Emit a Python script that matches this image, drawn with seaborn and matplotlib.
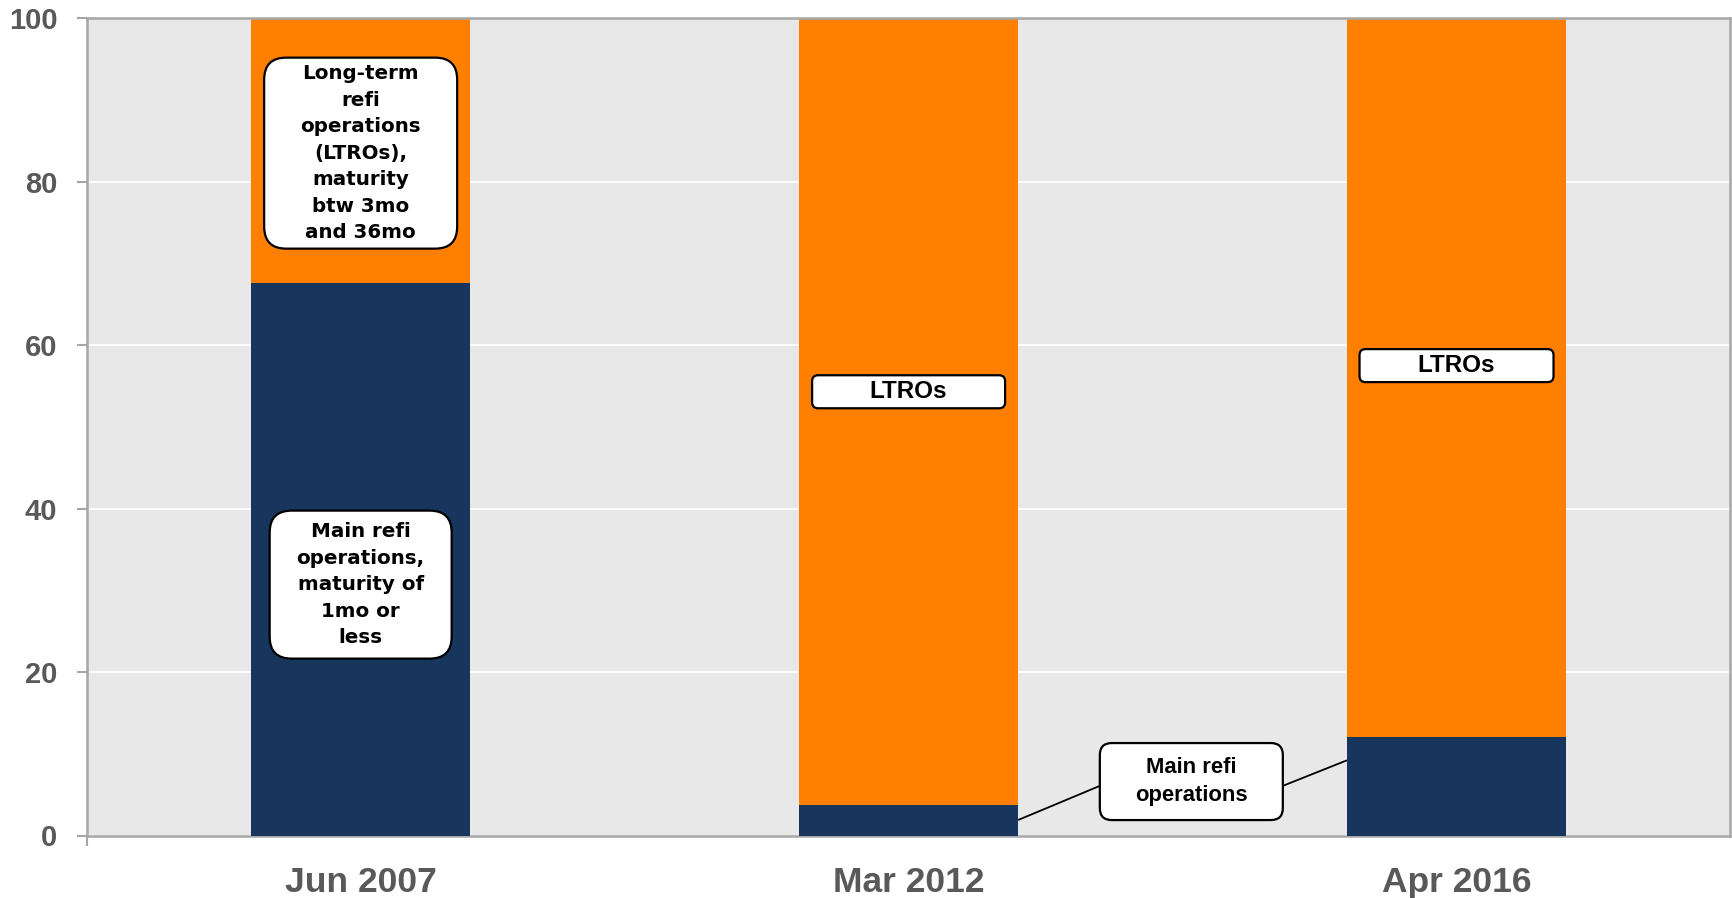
import matplotlib
matplotlib.use("Agg")
import matplotlib.pyplot as plt
from matplotlib.patches import FancyBboxPatch
from matplotlib.transforms import IdentityTransform
import seaborn as sns
import pandas as pd

# ---- data ----
categories = ["Jun 2007", "Mar 2012", "Apr 2016"]
main_refi = [67.6, 3.7, 12.0]
ltros = [32.4, 96.3, 88.0]
y_ticks = [0, 20, 40, 60, 80, 100]

NAVY = "#18365D"
ORANGE = "#FF8000"
GREY_TXT = "#595959"
SPINE = "#A6A6A6"

sns.set_theme(style="white")
plt.rcParams["font.family"] = ["Liberation Sans", "DejaVu Sans"]

DPI = 100
W, H = 1733, 898
fig = plt.figure(figsize=(W / DPI, H / DPI), dpi=DPI)
ax_l, ax_r, ax_t, ax_b = 86.7, 1730.5, 18.3, 835.5
ax = fig.add_axes([ax_l / W, 1 - ax_b / H, (ax_r - ax_l) / W, (ax_b - ax_t) / H])
ax.set_facecolor("#E8E8E8")

df = pd.DataFrame({"period": categories, "main": main_refi, "ltro": ltros})
df["total"] = df["main"] + df["ltro"]

sns.barplot(data=df, x="period", y="total", color=ORANGE, width=0.4,
            saturation=1, ax=ax, zorder=2, linewidth=0)
sns.barplot(data=df, x="period", y="main", color=NAVY, width=0.4,
            saturation=1, ax=ax, zorder=3, linewidth=0)

ax.set_xlim(-0.5, 2.5)
ax.set_ylim(0, 100)
ax.set_yticks(y_ticks)
ax.set_xlabel("")
ax.set_ylabel("")
ax.grid(axis="y", color="white", linewidth=1.3, zorder=1)
ax.grid(axis="x", visible=False)
ax.set_axisbelow(True)

for s in ax.spines.values():
    s.set_visible(True)
    s.set_color(SPINE)
    s.set_linewidth(1.8)

ax.tick_params(axis="y", which="major", direction="out", length=7.2, width=1.5,
               color=SPINE, pad=14, labelsize=21, labelcolor=GREY_TXT, left=True)
ax.tick_params(axis="x", which="major", length=0, pad=22, labelsize=25.5,
               labelcolor=GREY_TXT)
ax.set_xticks([-0.5], minor=True)
ax.tick_params(axis="x", which="minor", direction="out", length=7.2, width=1.5,
               color=SPINE, bottom=True)
for lab in ax.get_yticklabels() + ax.get_xticklabels():
    lab.set_fontweight("bold")
    lab.set_fontfamily(["Liberation Sans", "DejaVu Sans"])


def callout(xd, yd, text, w, h, r, size, family, ls):
    """Rounded white box of w x h pixels centred on data point (xd, yd)."""
    cx, cy = ax.transData.transform((xd, yd))
    patch = FancyBboxPatch((cx - w / 2, cy - h / 2), w, h,
                           boxstyle=f"round,pad=0,rounding_size={r}",
                           transform=IdentityTransform(), facecolor="white",
                           edgecolor="black", linewidth=1.6, zorder=5)
    fig.add_artist(patch)
    fig.text(cx / W, cy / H, text, ha="center", va="center", fontsize=size,
             fontweight="bold", family=family, color="black", linespacing=ls,
             zorder=6)


callout(0, 83.5, "Long-term\nrefi\noperations\n(LTROs),\nmaturity\nbtw 3mo\nand 36mo",
        193, 191, 22, 14.3, ["DejaVu Sans"], 1.5)
callout(0, 30.7, "Main refi\noperations,\nmaturity of\n1mo or\nless",
        182, 148, 22, 14.3, ["DejaVu Sans"], 1.5)
callout(1, 54.3, "LTROs", 193, 33, 6, 17.5, ["Liberation Sans"], 1.2)
callout(2, 57.5, "LTROs", 194, 33, 6, 17.5, ["Liberation Sans"], 1.2)
callout(1.516, 6.6, "Main refi\noperations", 183, 77, 12, 15.8,
        ["Liberation Sans"], 1.45)

# leader lines
ax.plot([1.2, 1.350], [1.9, 6.1], color="black", linewidth=1.3, zorder=4,
        solid_capstyle="butt")
ax.plot([1.684, 1.8], [6.1, 9.2], color="black", linewidth=1.3, zorder=4,
        solid_capstyle="butt")

fig.savefig("out.png", dpi=DPI, facecolor="white")
